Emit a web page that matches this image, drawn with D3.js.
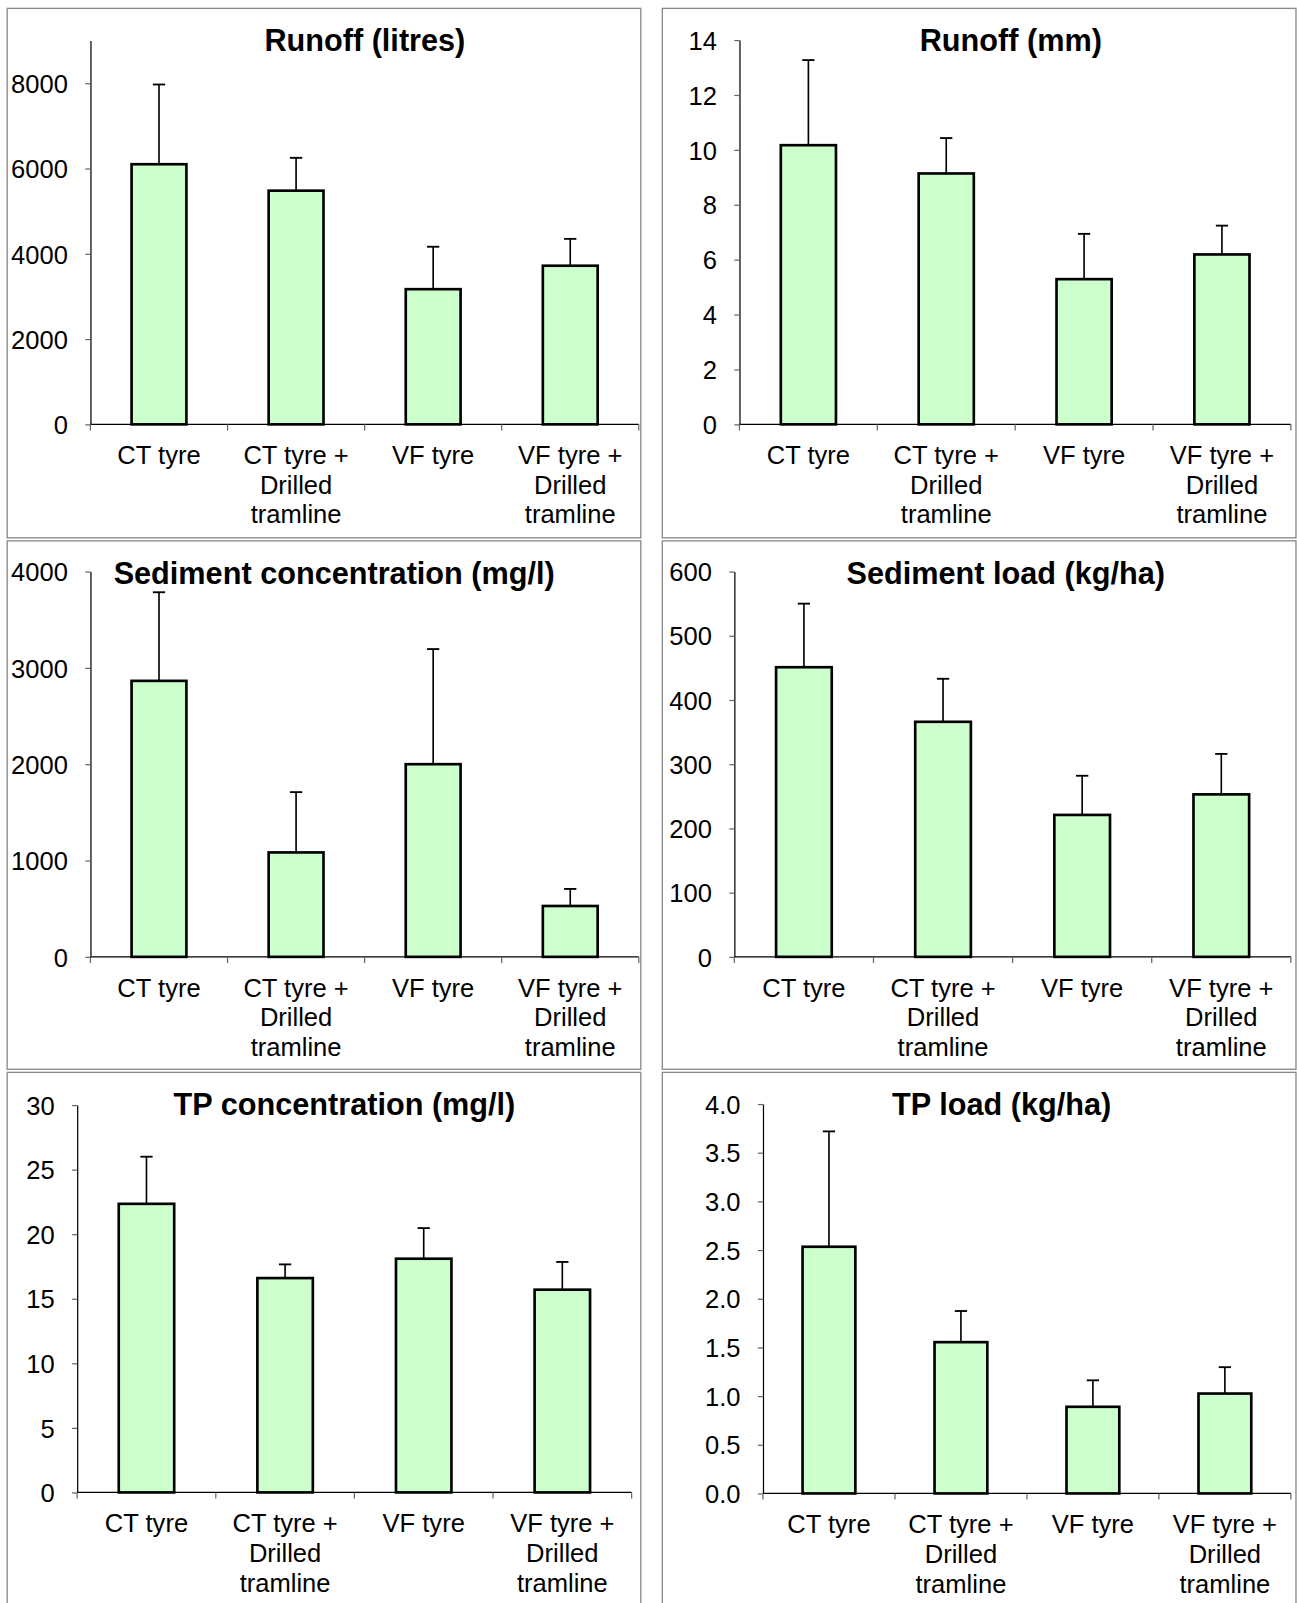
<!DOCTYPE html>
<html>
<head>
<meta charset="utf-8">
<script src="https://cdn.jsdelivr.net/npm/d3@7"></script>
<style>
  html, body { margin: 0; padding: 0; background: #fff; }
  svg { display: block; }
  text { font-family: "Liberation Sans", Arial, sans-serif; fill: #000; }
</style>
</head>
<body>
<script>
// Treatments (x categories), shared by all six panels
const categories = ["CT tyre", "CT tyre + Drilled tramline", "VF tyre", "VF tyre + Drilled tramline"];
const categoryLines = [["CT tyre"], ["CT tyre +", "Drilled", "tramline"], ["VF tyre"], ["VF tyre +", "Drilled", "tramline"]];

// Means and upper error (SE) for each measured variable
const runoffLitres     = [6100, 5480, 3170, 3720];
const runoffLitresErr  = [1870, 770, 995, 630];
const runoffMm         = [10.17, 9.14, 5.29, 6.19];
const runoffMmErr      = [3.10, 1.29, 1.65, 1.05];
const sedimentConc     = [2865, 1084, 2000, 528];
const sedimentConcErr  = [920, 626, 1195, 177];
const sedimentLoad     = [451, 366, 221, 253];
const sedimentLoadErr  = [99, 67, 61, 63];
const tpConc           = [22.35, 16.6, 18.1, 15.7];
const tpConcErr        = [3.65, 1.06, 2.37, 2.15];
const tpLoad           = [2.534, 1.554, 0.89, 1.026];
const tpLoadErr        = [1.185, 0.32, 0.272, 0.271];

// Axis ranges and tick values
const runoffLitresTicks = [0, 2000, 4000, 6000, 8000];
const runoffMmTicks     = [0, 2, 4, 6, 8, 10, 12, 14];
const sedimentConcTicks = [0, 1000, 2000, 3000, 4000];
const sedimentLoadTicks = [0, 100, 200, 300, 400, 500, 600];
const tpConcTicks       = [0, 5, 10, 15, 20, 25, 30];
const tpLoadTicks       = [0, 0.5, 1.0, 1.5, 2.0, 2.5, 3.0, 3.5, 4.0];

const titles = ["Runoff (litres)", "Runoff (mm)", "Sediment concentration (mg/l)",
                "Sediment load (kg/ha)", "TP concentration (mg/l)", "TP load (kg/ha)"];

const panels = [
  { title: titles[0], values: runoffLitres, errs: runoffLitresErr, ticks: runoffLitresTicks, max: 9000, fmt: d3.format("d"),
    box: [7, 8, 620, 518], left: 88.5, right: 625, bottom: 415, top: 39.5, titleX: 357, titleY: 50 },
  { title: titles[1], values: runoffMm, errs: runoffMmErr, ticks: runoffMmTicks, max: 14, fmt: d3.format("d"),
    box: [648, 8, 620, 518], left: 723.5, right: 1263, bottom: 415, top: 39, titleX: 989, titleY: 50 },
  { title: titles[2], values: sedimentConc, errs: sedimentConcErr, ticks: sedimentConcTicks, max: 4000, fmt: d3.format("d"),
    box: [7, 529, 620, 517], left: 88.5, right: 625, bottom: 936, top: 559, titleX: 327, titleY: 571 },
  { title: titles[3], values: sedimentLoad, errs: sedimentLoadErr, ticks: sedimentLoadTicks, max: 600, fmt: d3.format("d"),
    box: [648, 529, 620, 517], left: 718.5, right: 1263, bottom: 936, top: 559, titleX: 984, titleY: 571 },
  { title: titles[4], values: tpConc, errs: tpConcErr, ticks: tpConcTicks, max: 30, fmt: d3.format("d"),
    box: [7, 1049, 620, 530], left: 75.5, right: 618, bottom: 1460, top: 1081, titleX: 337, titleY: 1091 },
  { title: titles[5], values: tpLoad, errs: tpLoadErr, ticks: tpLoadTicks, max: 4, fmt: d3.format(".1f"),
    box: [648, 1049, 620, 530], left: 746.5, right: 1263, bottom: 1461, top: 1080, titleX: 980, titleY: 1091 }
];

const svg = d3.select("body").append("svg")
  .attr("width", 1297).attr("height", 1603)
  .attr("viewBox", "0 0 1269 1568");

svg.append("rect").attr("width", 1269).attr("height", 1568).attr("fill", "#fff");

panels.forEach(p => {
  const g = svg.append("g");

  // panel frame
  g.append("rect")
    .attr("x", p.box[0]).attr("y", p.box[1])
    .attr("width", p.box[2]).attr("height", p.box[3])
    .attr("fill", "none").attr("stroke", "#888").attr("stroke-width", 1.3);

  const x = d3.scaleBand().domain(categories).range([p.left, p.right]);
  const y = d3.scaleLinear().domain([0, p.max]).range([p.bottom, p.top]);
  const barW = x.bandwidth() * 0.4;

  // y axis
  const yAxis = g.append("g")
    .attr("transform", `translate(${p.left},0)`)
    .call(d3.axisLeft(y).tickValues(p.ticks).tickFormat(p.fmt).tickSize(5).tickPadding(17).tickSizeOuter(0));
  yAxis.select(".domain").attr("stroke", "#000").attr("stroke-width", 1.2);
  yAxis.selectAll(".tick line").attr("stroke", "#666").attr("stroke-width", 1.2);
  yAxis.selectAll(".tick text")
    .attr("font-size", 25).attr("font-family", "'Liberation Sans', Arial, sans-serif")
    .attr("fill", "#000").attr("dy", "0.36em");

  // x axis line with boundary ticks
  g.append("line")
    .attr("x1", p.left).attr("x2", p.right)
    .attr("y1", p.bottom).attr("y2", p.bottom)
    .attr("stroke", "#000").attr("stroke-width", 1.2);
  const bounds = categories.map(c => x(c)).concat([p.right]);
  g.selectAll(".xtick").data(bounds).enter().append("line")
    .attr("x1", d => d).attr("x2", d => d)
    .attr("y1", p.bottom).attr("y2", p.bottom + 6)
    .attr("stroke", "#666").attr("stroke-width", 1.2);

  // category labels
  categories.forEach((c, i) => {
    const t = g.append("text")
      .attr("x", x(c) + x.bandwidth() / 2)
      .attr("y", p.bottom + 39)
      .attr("text-anchor", "middle")
      .attr("font-size", 25);
    categoryLines[i].forEach((line, j) => {
      t.append("tspan")
        .attr("x", x(c) + x.bandwidth() / 2)
        .attr("dy", j === 0 ? 0 : 29)
        .text(line);
    });
  });

  // error bars (upper only)
  const data = categories.map((c, i) => ({ c, v: p.values[i], e: p.errs[i] }));
  const eb = g.selectAll(".err").data(data).enter().append("g");
  eb.append("line")
    .attr("x1", d => x(d.c) + x.bandwidth() / 2).attr("x2", d => x(d.c) + x.bandwidth() / 2)
    .attr("y1", d => y(d.v)).attr("y2", d => y(d.v + d.e))
    .attr("stroke", "#000").attr("stroke-width", 1.6);
  eb.append("line")
    .attr("x1", d => x(d.c) + x.bandwidth() / 2 - 6).attr("x2", d => x(d.c) + x.bandwidth() / 2 + 6)
    .attr("y1", d => y(d.v + d.e)).attr("y2", d => y(d.v + d.e))
    .attr("stroke", "#000").attr("stroke-width", 1.8);

  // bars
  g.selectAll(".bar").data(data).enter().append("rect")
    .attr("x", d => x(d.c) + (x.bandwidth() - barW) / 2)
    .attr("y", d => y(d.v))
    .attr("width", barW)
    .attr("height", d => y(0) - y(d.v))
    .attr("fill", "#ccffcc")
    .attr("stroke", "#000")
    .attr("stroke-width", 2.6);

  // title
  g.append("text")
    .attr("x", p.titleX).attr("y", p.titleY)
    .attr("text-anchor", "middle")
    .attr("font-size", 30).attr("font-weight", "bold")
    .text(p.title);
});
</script>
</body>
</html>
